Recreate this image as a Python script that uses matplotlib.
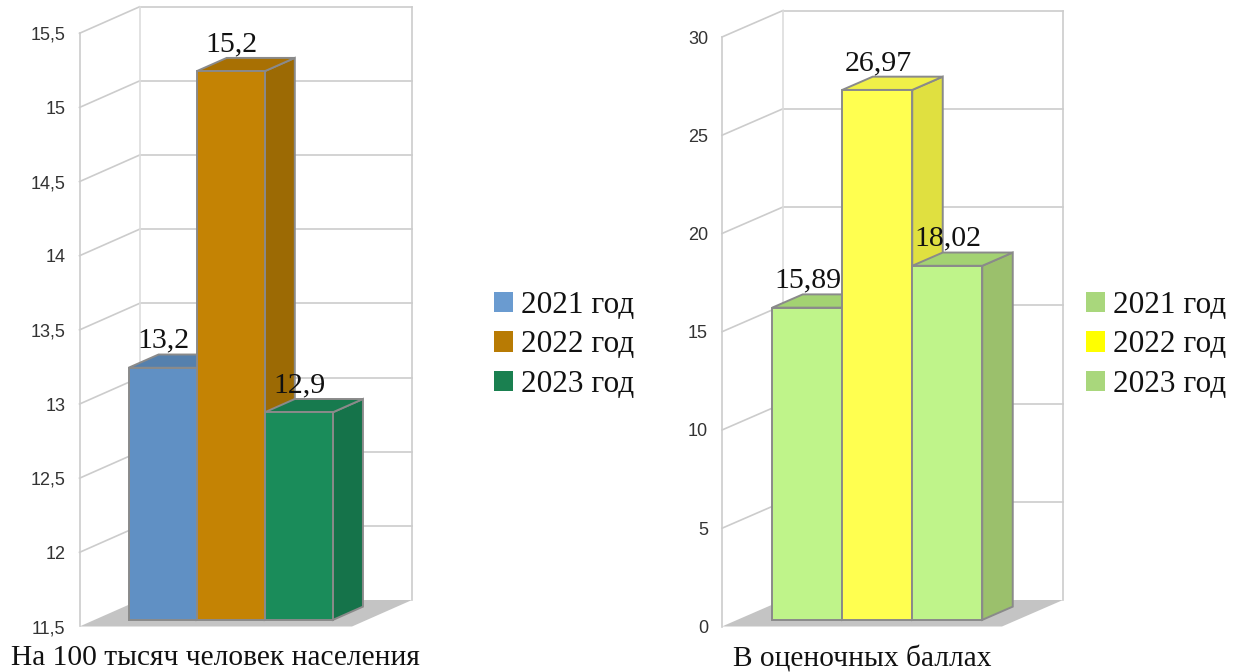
import matplotlib
matplotlib.use("Agg")
import matplotlib.pyplot as plt
from matplotlib.patches import Polygon, Patch

W, H = 1239, 672
years = ["2021 год", "2022 год", "2023 год"]

left_values = [13.2, 15.2, 12.9]
left_labels = ["13,2", "15,2", "12,9"]
left_ticks = [11.5, 12, 12.5, 13, 13.5, 14, 14.5, 15, 15.5]
left_ticklabels = ["11,5", "12", "12,5", "13", "13,5", "14", "14,5", "15", "15,5"]
left_title = "На 100 тысяч человек населения"

right_values = [15.89, 26.97, 18.02]
right_labels = ["15,89", "26,97", "18,02"]
right_ticks = [0, 5, 10, 15, 20, 25, 30]
right_ticklabels = ["0", "5", "10", "15", "20", "25", "30"]
right_title = "В оценочных баллах"

left_front = ["#6090c4", "#c48304", "#1a8c5a"]
left_top = ["#5580ad", "#a87003", "#177a4e"]
left_side = ["#4f78a3", "#9c6a04", "#15734a"]
left_legend = ["#6a9bd0", "#b87b04", "#1a8050"]

right_front = ["#bff48a", "#ffff50", "#bff48a"]
right_top = ["#a3d272", "#f0f048", "#a3d272"]
right_side = ["#9bc06c", "#e0e040", "#9bc06c"]
right_legend = ["#a9d77c", "#ffff00", "#a9d77c"]

GRID = "#cccccc"
EDGE = "#8a8a8a"
FLOOR = "#c4c4c4"
SERIF = "Liberation Serif"
SANS = "Liberation Sans"

fig = plt.figure(figsize=(W / 100, H / 100), dpi=100, facecolor="white")


def draw(box, ticks, ticklabels, values, labels, front, top, side, legend_colors,
         title, depth_px, legend_xy):
    x0, x1, ytop, ybot = box
    ax = fig.add_axes([x0 / W, 1 - ybot / H, (x1 - x0) / W, (ybot - ytop) / H])
    vmin, vmax = ticks[0], ticks[-1]
    ax.set_xlim(0, 4)
    ax.set_ylim(vmin, vmax)
    ax.patch.set_visible(False)
    for name, sp in ax.spines.items():
        sp.set_visible(name == "left")
        sp.set_color(GRID)
        sp.set_linewidth(1.2)
    ax.set_xticks([])
    ax.set_yticks(ticks)
    ax.set_yticklabels(ticklabels, fontfamily=SANS, fontsize=13, color="#333333")
    ax.tick_params(axis="y", length=0, pad=10)
    ax.set_xlabel(title, fontfamily=SERIF, fontsize=21.2, color="#111111", labelpad=13.5)

    kx = depth_px[0] / ((x1 - x0) / 4)
    kv = depth_px[1] / ((ybot - ytop) / (vmax - vmin))

    def p(x, v, d):
        return (x + d * kx, v + d * kv)

    def poly(pts, fc, ec, z, lw=1.4):
        ax.add_patch(Polygon(pts, closed=True, facecolor=fc, edgecolor=ec,
                             linewidth=lw, zorder=z, clip_on=False, joinstyle="miter"))

    # floor
    poly([p(0, vmin, 0), p(0, vmin, 1), p(4, vmin, 1), p(4, vmin, 0)], FLOOR, "none", 1, 0)
    # walls and gridlines
    for t in ticks:
        a, b, c = p(0, t, 0), p(0, t, 1), p(4, t, 1)
        if t != vmin:
            ax.plot([a[0], b[0]], [a[1], b[1]], color=GRID, lw=1.2, zorder=2, clip_on=False)
            ax.plot([b[0], c[0]], [b[1], c[1]], color=GRID, lw=1.2, zorder=2, clip_on=False)
    a, b = p(0, vmin, 1), p(0, vmax, 1)
    ax.plot([a[0], b[0]], [a[1], b[1]], color="#dddddd", lw=1.2, zorder=2, clip_on=False)
    a, b = p(4, vmin, 1), p(4, vmax, 1)
    ax.plot([a[0], b[0]], [a[1], b[1]], color=GRID, lw=1.2, zorder=2, clip_on=False)

    # bars
    d0, d1 = 0.25, 0.75
    for i, v in enumerate(values):
        l, r = 0.5 + i, 1.5 + i
        z = 3 + i
        poly([p(r, vmin, d0), p(r, vmin, d1), p(r, v, d1), p(r, v, d0)], side[i], EDGE, z)
        poly([p(l, v, d0), p(l, v, d1), p(r, v, d1), p(r, v, d0)], top[i], EDGE, z)
        poly([p(l, vmin, d0), p(r, vmin, d0), p(r, v, d0), p(l, v, d0)], front[i], EDGE, z)
    for i, v in enumerate(values):
        ax.annotate(labels[i], xy=p(1 + i, v, d0), xytext=(0.5, 14.4), textcoords="offset points",
                    ha="center", va="baseline", fontfamily=SERIF, fontsize=21.5,
                    color="#111111", zorder=10, annotation_clip=False)

    handles = [Patch(facecolor=c, edgecolor="none") for c in legend_colors]
    fig.legend(handles, years, loc="center left",
               bbox_to_anchor=(legend_xy[0] / W, 1 - legend_xy[1] / H),
               frameon=False, prop={"family": SERIF, "size": 22.5}, labelcolor="#111111",
               handlelength=0.61, handleheight=0.61, handletextpad=0.26,
               labelspacing=0.35, borderpad=0, borderaxespad=0)


draw((79.5, 352, 33.3, 626.5), left_ticks, left_ticklabels, left_values, left_labels,
     left_front, left_top, left_side, left_legend, left_title, (60, 26.5), (494, 345))
draw((722, 1002, 37, 626.5), right_ticks, right_ticklabels, right_values, right_labels,
     right_front, right_top, right_side, right_legend, right_title, (61, 26.5), (1086, 345))

fig.savefig("out.png", dpi=100, facecolor="white")
